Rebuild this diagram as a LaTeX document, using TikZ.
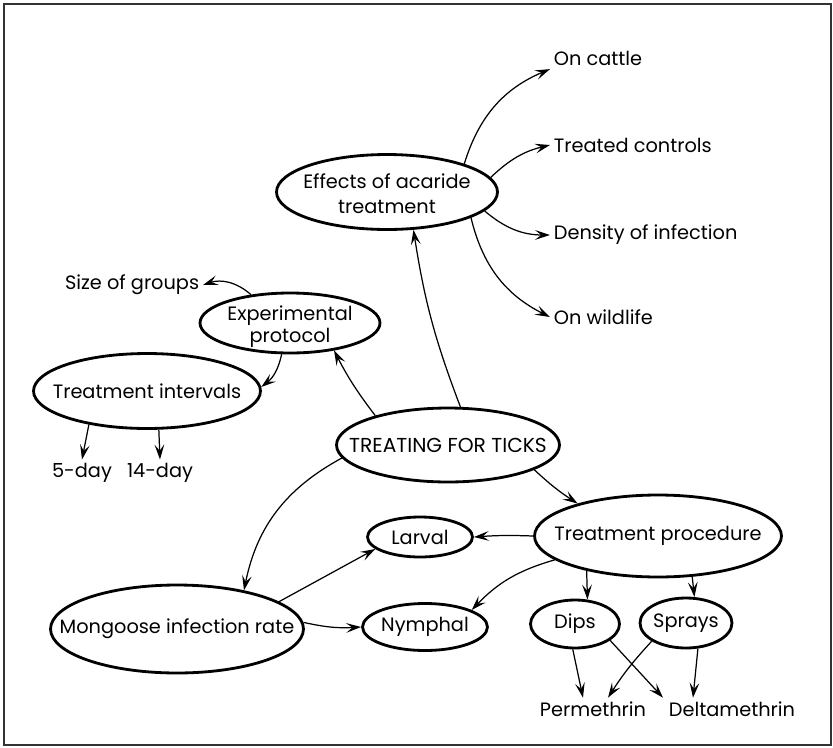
\documentclass[tikz,border=0pt]{standalone}
\usepackage{fontspec}
\setmainfont{Poppins}
\usetikzlibrary{arrows.meta}
\usetikzlibrary{calc}
\usetikzlibrary{shapes.geometric}

\begin{document}
\begin{tikzpicture}[
  x=0.02cm, y=-0.02cm,
  > = {Stealth[length=8.5pt,width=5.5pt,inset=3.5pt]},
  font=\fontsize{11}{12.5}\selectfont,
  bubble/.style = {draw, ellipse, line width=1.6pt, inner sep=0pt},
  leaf/.style = {inner sep=2pt},
  link/.style = {->, line width=0.7pt},
  every label/.style = {align=center}
  ]
	\useasboundingbox (0,0) rectangle (833,748);
	\draw[line width=0.9pt, black!80] (4,4) rectangle (831,745);

	% bubbles
	\node[bubble, minimum width=4.42cm, minimum height=1.5cm, label={[yshift=-1pt]center:Effects of acaride\\[2pt]treatment}] (effects) at (387,192) {};
	\node[bubble, minimum width=3.6cm, minimum height=1.2cm, label={[yshift=-2pt]center:Experimental\\protocol}] (protocol) at (290,323) {};
	\node[bubble, minimum width=4.54cm, minimum height=1.5cm, label={center:Treatment intervals}] (intervals) at (147,391) {};
	\node[bubble, minimum width=4.46cm, minimum height=1.48cm, label={[font=\fontsize{11.5}{13}\selectfont]center:TREATING FOR TICKS}] (ticks) at (448,445) {};
	\node[bubble, minimum width=4.94cm, minimum height=1.64cm, label={center:Treatment procedure}] (procedure) at (658,536) {};
	\node[bubble, minimum width=2.1cm, minimum height=0.8cm, label={center:Larval}] (larval) at (420,537) {};
	\node[bubble, minimum width=2.5cm, minimum height=0.94cm, label={center:Nymphal}] (nymphal) at (425,627) {};
	\node[bubble, minimum width=5.06cm, minimum height=1.76cm, label={center:Mongoose infection rate}] (mongoose) at (177,629) {};
	\node[bubble, minimum width=1.78cm, minimum height=0.96cm, label={center:Dips}] (dips) at (575,624) {};
	\node[bubble, minimum width=1.84cm, minimum height=1cm, label={center:Sprays}] (sprays) at (686,623) {};

	% leaves
	\node[leaf, anchor=west] (cattle) at (550,58) {On cattle};
	\node[leaf, anchor=west] (controls) at (550,145) {Treated controls};
	\node[leaf, anchor=west] (density) at (550,235) {Density of infection};
	\node[leaf, anchor=west] (wildlife) at (550,317) {On wildlife};
	\node[leaf, anchor=east] (size) at (203,285) {Size of groups};
	\node[leaf] (five) at (82,473) {5-day};
	\node[leaf] (fourteen) at (160,473) {14-day};
	\node[leaf] (perm) at (593,709) {Permethrin};
	\node[leaf] (delta) at (732,709) {Deltamethrin};

	\draw[link] (ticks.72) to[bend left=6] (effects.-55);
	\draw[link] (ticks.158) to[bend left=5] (protocol.-32);
	\draw[link] (protocol.144) to[bend right=30] (size.east);
	\draw[link] (protocol.-105) to[bend left=20] (intervals.2);
	\draw[link] (intervals.-150) -- (five.north);
	\draw[link] (intervals.-73) -- (fourteen.north);

	\draw[link] (effects.20) to[bend left=25] (cattle.south west);
	\draw[link] (effects.8) to[bend left=15] (controls.west);
	\draw[link] (effects.-11) to[bend right=20] (density.west);
	\draw[link] (effects.-17) to[bend right=25] (wildlife.west);

	\draw[link] (ticks.-16) to[bend right=5] (procedure.158);
	\draw[link] (ticks.187) to[bend right=25] (mongoose.30);
	\draw[link] (mongoose.15) -- (larval.195);
	\draw[link] (mongoose.3) to[bend right=8] (nymphal.west);
	\draw[link] (procedure.west) to[bend right=3] (larval.east);
	\draw[link] (procedure.193) to[bend right=15] (nymphal.20);
	\draw[link] (procedure.206) -- (dips.63);
	\draw[link] (procedure.-50) -- (sprays.72);

	\draw[link] (dips.-95) -- ($(perm.north)+(-10,0)$);
	\draw[link] (dips.-25) -- ($(delta.north)+(-69,0)$);
	\draw[link] (sprays.208) to[bend right=5] ($(perm.north)+(15,0)$);
	\draw[link] (sprays.-65) -- ($(delta.north)+(-39,0)$);

\end{tikzpicture}
\end{document}
